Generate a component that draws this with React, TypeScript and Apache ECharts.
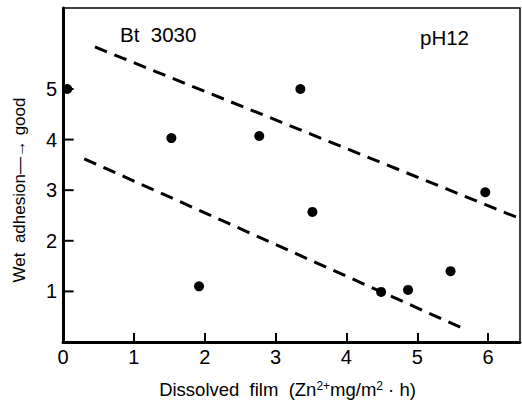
import React, { useEffect, useRef } from "react";
import * as echarts from "echarts";

const pointX = [0.06, 1.53, 1.92, 2.77, 3.35, 3.52, 4.49, 4.87, 5.47, 5.96];
const pointY = [5.0, 4.03, 1.1, 4.07, 5.0, 2.57, 0.99, 1.03, 1.4, 2.96];
const upperLine = [
  [0.45, 5.83],
  [6.43, 2.45],
];
const lowerLine = [
  [0.3, 3.62],
  [5.61, 0.29],
];
const yTicks = [1, 2, 3, 4, 5];
const yTickLen = 0.15;
const FONT = "'Liberation Sans', Arial, sans-serif";

export default function App() {
  const ref = useRef<HTMLDivElement>(null);
  useEffect(() => {
    if (!ref.current) return;
    const chart = echarts.init(ref.current, undefined, { renderer: "svg" });
    const tickSeries = yTicks.map((v) => ({
      type: "line",
      data: [
        [0, v],
        [yTickLen, v],
      ],
      symbol: "none",
      silent: true,
      lineStyle: { color: "#000", width: 2, type: "solid" },
      z: 4,
    }));
    chart.setOption({
      animation: false,
      backgroundColor: "#fff",
      textStyle: { fontFamily: FONT, color: "#000" },
      grid: {
        left: 63,
        right: 2,
        top: 8,
        bottom: 64,
        show: true,
        borderColor: "#000",
        borderWidth: 1.5,
      },
      xAxis: {
        type: "value",
        min: 0,
        max: 6.45,
        interval: 1,
        splitLine: { show: false },
        axisLine: { lineStyle: { color: "#000", width: 3 } },
        axisTick: {
          show: true,
          inside: true,
          length: 9,
          lineStyle: { color: "#000", width: 2 },
        },
        axisLabel: {
          color: "#000",
          fontSize: 20,
          margin: 5,
          fontFamily: FONT,
          showMaxLabel: false,
          formatter: (v: number) => (Number.isInteger(v) ? String(v) : ""),
        },
        name: "{n|Dissolved  film  (Zn}{s|2+}{n|mg/m}{s|2}{n| · h)}",
        nameLocation: "middle",
        nameGap: 38,
        nameTextStyle: {
          padding: [0, 8, 0, 0],
          rich: {
            n: { fontSize: 18.5, fontFamily: FONT, color: "#000", verticalAlign: "bottom" },
            s: { fontSize: 12, fontFamily: FONT, color: "#000", verticalAlign: "top" },
          },
        },
      },
      yAxis: {
        type: "value",
        min: 0,
        max: 6.6,
        interval: 1,
        splitLine: { show: false },
        axisLine: { lineStyle: { color: "#000", width: 3 } },
        axisTick: { show: false },
        axisLabel: {
          color: "#000",
          fontSize: 20,
          margin: 6,
          fontFamily: FONT,
          formatter: (v: number) => (yTicks.indexOf(v) >= 0 ? String(v) : ""),
        },
        name: "Wet  adhesion\u2014\u2192 good",
        nameLocation: "middle",
        nameGap: 35,
        nameTextStyle: { fontSize: 17, fontFamily: FONT, color: "#000", padding: [0, 30, 0, 0] },
      },
      graphic: [
        {
          type: "text",
          left: 120,
          top: 24,
          style: { text: "Bt  3030", fontSize: 20.5, fontFamily: FONT, fill: "#000" },
        },
        {
          type: "text",
          left: 420,
          top: 27,
          style: { text: "pH12", fontSize: 20.5, fontFamily: FONT, fill: "#000" },
        },
      ],
      series: [
        {
          type: "scatter",
          data: pointX.map((x, i) => [x, pointY[i]]),
          symbolSize: 10,
          itemStyle: { color: "#000", opacity: 1 },
          z: 5,
        },
        {
          type: "line",
          data: upperLine,
          symbol: "none",
          lineStyle: { color: "#000", width: 3, type: [13, 8] },
        },
        {
          type: "line",
          data: lowerLine,
          symbol: "none",
          lineStyle: { color: "#000", width: 3, type: [13, 8] },
        },
        ...tickSeries,
      ],
    });
    return () => chart.dispose();
  }, []);
  return <div ref={ref} style={{ width: 522, height: 406, position: "absolute", left: 0, top: 0 }} />;
}
